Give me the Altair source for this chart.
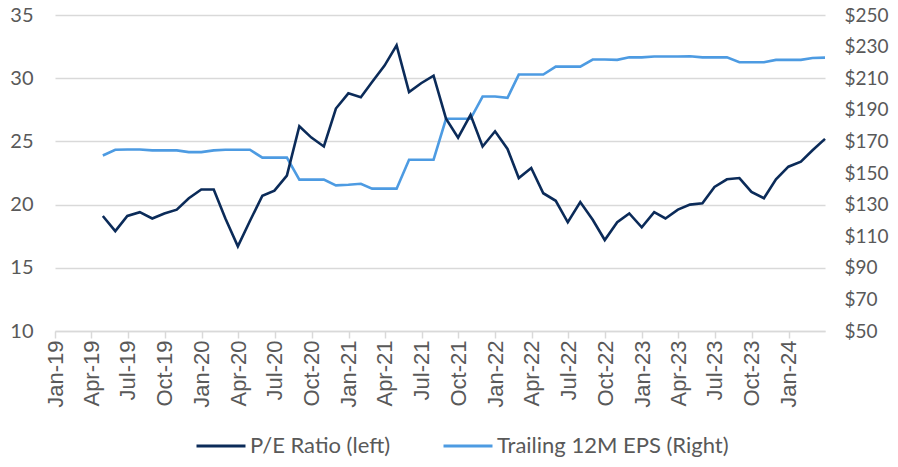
import altair as alt
import pandas as pd

# Month-end observation dates: Apr-2019 .. Mar-2024 (60 months)
dates = pd.date_range("2019-04-30", periods=60, freq="ME")

pe_ratio = [
    19.1, 17.9, 19.1, 19.4, 18.9, 19.3, 19.6, 20.5, 21.2, 21.2,
    18.9, 16.7, 18.7, 20.7, 21.1, 22.3, 26.2, 25.3, 24.6, 27.6,
    28.8, 28.5, 29.7, 31.0, 32.6, 28.9, 29.6, 30.2, 26.8, 25.3,
    27.1, 24.6, 25.8, 24.4, 22.1, 22.9, 20.9, 20.3, 18.6, 20.2,
    18.8, 17.2, 18.6, 19.3, 18.2, 19.4, 18.9, 19.6, 20.0, 20.1,
    21.4, 22.0, 22.1, 21.0, 20.5, 22.0, 23.0, 23.4, 24.3, 25.2,
]

eps_ttm = [
    161.1, 164.7, 164.9, 164.9, 164.3, 164.3, 164.3, 163.2, 163.2, 164.3,
    164.7, 164.7, 164.7, 159.7, 159.7, 159.7, 145.8, 145.8, 145.8, 142.2,
    142.6, 143.2, 140.1, 140.1, 140.1, 158.4, 158.4, 158.4, 184.3, 184.3,
    184.3, 198.4, 198.4, 197.6, 212.3, 212.3, 212.3, 217.3, 217.3, 217.3,
    221.8, 221.8, 221.6, 223.2, 223.2, 223.7, 223.7, 223.7, 223.9, 223.2,
    223.2, 223.2, 220.1, 220.1, 220.1, 221.6, 221.6, 221.6, 222.8, 223.0,
]

series_names = ["P/E Ratio (left)", "Trailing 12M EPS (Right)"]
series_colors = ["#0b2b59", "#4d9be2"]

pe_ticks = [10, 15, 20, 25, 30, 35]
eps_ticks = [50, 70, 90, 110, 130, 150, 170, 190, 210, 230, 250]
quarter_ticks = [alt.DateTime(year=y, month=m, date=1)
                 for y in range(2019, 2025) for m in (1, 4, 7, 10)
                 if not (y == 2024 and m > 1)]

df_pe = pd.DataFrame({"date": dates, "value": pe_ratio, "series": series_names[0]})
df_eps = pd.DataFrame({"date": dates, "value": eps_ttm, "series": series_names[1]})

FONT = "Lato"
TXT = "#595959"
GRID = "#d9d9d9"

x_enc = alt.X(
    "date:T",
    title=None,
    scale=alt.Scale(domain=[alt.DateTime(year=2019, month=1, date=1),
                            alt.DateTime(year=2024, month=3, date=31)]),
    axis=alt.Axis(
        values=quarter_ticks, format="%b-%y", labelAngle=270,
        labelFont="Liberation Sans", labelFontSize=22, labelColor=TXT,
        labelPadding=2, tickSize=7, tickColor=GRID, tickWidth=1.5,
        domainColor=GRID, domainWidth=1.5, grid=False, labelOverlap=False,
        labelFlush=False,
    ),
)

color_enc = alt.Color(
    "series:N",
    scale=alt.Scale(domain=series_names, range=series_colors),
    legend=alt.Legend(
        title=None, orient="none", direction="horizontal",
        legendX=140, legendY=405,
        symbolType="stroke", symbolSize=2400, symbolStrokeWidth=3,
        labelFont=FONT, labelFontSize=22, labelColor=TXT, labelLimit=500,
        labelOffset=3, columnPadding=46,
    ),
)

pe_line = alt.Chart(df_pe).mark_line(strokeWidth=2.6).encode(
    x=x_enc,
    y=alt.Y(
        "value:Q", title=None,
        scale=alt.Scale(domain=[10, 35], nice=False, zero=False),
        axis=alt.Axis(
            values=pe_ticks, orient="left", grid=True, gridColor=GRID,
            gridWidth=1.5, domain=False, ticks=False, labelFont=FONT,
            labelFontSize=20, labelColor=TXT, labelPadding=22,
        ),
    ),
    color=color_enc,
)

eps_line = alt.Chart(df_eps).mark_line(strokeWidth=2.6).encode(
    x=x_enc,
    y=alt.Y(
        "value:Q", title=None,
        scale=alt.Scale(domain=[50, 250], nice=False, zero=False),
        axis=alt.Axis(
            values=eps_ticks, orient="right", grid=False, domain=False,
            ticks=False, labelFont=FONT, labelFontSize=19, labelColor=TXT,
            labelPadding=19, labelExpr="'$' + datum.value",
        ),
    ),
    color=color_enc,
)

chart = (
    alt.layer(eps_line, pe_line)
    .resolve_scale(y="independent")
    .properties(
        width=770, height=316,
        autosize=alt.AutoSizeParams(type="none"),
        padding={"left": 47, "top": 7, "right": 65, "bottom": 128},
    )
    .configure_view(stroke=None)
)

chart.save("out.html", embed_options={"renderer": "svg", "actions": False})
